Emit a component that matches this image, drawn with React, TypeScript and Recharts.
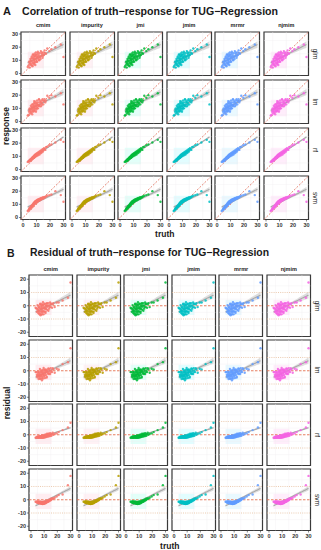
import React from 'react';
import {
  ComposedChart, Scatter, Line, Area, XAxis, YAxis, CartesianGrid,
  ReferenceLine, ReferenceArea,
} from 'recharts';

// ---------------- data ----------------
const methods = ['cmim', 'impurity', 'jmi', 'jmim', 'mrmr', 'njmim'];
const methodColors = ['#F8766D', '#B79F00', '#00BA38', '#00BFC4', '#619CFF', '#F564E3'];
const methodTints = ['#ffb6c6', '#ffc6d8', '#8cffe6', '#8cf6ff', '#a6e6ff', '#ffb6f0'];
const models = ['glm', 'lm', 'rf', 'svm'];

const truth = [
  4, 4.5, 5, 5.2, 5.5, 5.8, 6, 6.2, 6.5, 6.8,
  7, 7.2, 7.4, 7.6, 7.8, 8, 8.2, 8.4, 8.6, 8.8,
  9, 9.2, 9.5, 9.8, 10, 10.2, 10.5, 10.8, 11, 11.3,
  11.6, 12, 12.4, 12.8, 13.2, 13.6, 14, 14.5, 15, 15.5,
  16, 17, 18, 19.5, 21, 24, 28, 30,
  3.5, 4.8, 5.6, 6.4, 6.9, 7.3, 7.9, 8.3, 8.7, 9.1,
  9.6, 10.1, 10.6, 11.1, 11.8, 12.2, 13, 13.8, 14.8, 16.5,
];

const glmResponse = [
  6, 9, 4.5, 8, 11, 6.5, 10, 7.5, 13, 9,
  5.5, 11.5, 8, 14, 10, 12.5, 7, 9.5, 15, 11,
  13, 8.5, 16, 10.5, 12, 14.5, 9, 13, 16.5, 11.5,
  14, 10, 15.5, 12.5, 17, 13.5, 15, 12, 16, 14,
  17.5, 15, 19, 17, 18.5, 20, 22, 12.5,
  5, 7, 9.5, 12, 6, 14.5, 11, 8, 13.5, 6.5,
  14, 9, 12.5, 15.5, 10.5, 13, 11, 16, 13.5, 15.5,
];
const lmResponse = [
  5, 7.5, 10, 6, 8.5, 12, 7, 9.5, 11, 5.5,
  9, 13, 10.5, 7.5, 12, 9, 14, 11, 8, 13.5,
  10, 15, 12, 9, 14, 11, 16, 12.5, 10, 14.5,
  12, 16.5, 13, 15, 11.5, 16, 14, 17, 13, 15.5,
  17, 16, 19.5, 18, 20, 19, 21.5, 13,
  4.5, 9, 7.5, 10.5, 13, 8, 11.5, 15.5, 10, 12,
  7.5, 13.5, 10, 12.5, 17, 11.5, 14.5, 12.5, 16, 14.5,
];
const rfResponse = [
  6, 6.5, 6.2, 7.3, 6.9, 7.8, 7.2, 8.4, 7.9, 8.7,
  8.1, 9.3, 8.6, 9.8, 9, 10.2, 9.4, 10.6, 9.7, 11,
  10.1, 11.4, 10.5, 11.8, 10.9, 12.2, 11.3, 12.6, 11.7, 13,
  12.2, 13.6, 12.8, 14.1, 13.4, 14.7, 14, 15.5, 14.8, 16.2,
  15.6, 17, 17.3, 18.5, 19, 20.5, 22.5, 21,
  5.8, 6.9, 7.9, 7.6, 8.9, 8.5, 9.5, 8.9, 10.3, 9.6,
  10.9, 10.2, 11.6, 10.8, 12.1, 11.4, 12.4, 12.9, 13.6, 14.9,
];
const svmResponse = [
  5.5, 6.5, 6, 7.5, 7, 8.2, 7.5, 8.8, 8, 9.2,
  8.5, 10, 9, 10.5, 9.5, 11, 10, 11.5, 10.3, 12,
  10.8, 12.3, 11, 12.8, 11.5, 13, 12, 13.5, 12.3, 13.8,
  12.8, 14, 13, 14.2, 13.5, 14.8, 14, 15, 14.3, 15.5,
  15, 16, 16.5, 17, 17.5, 20, 17, 12,
  5, 6.8, 7.8, 8.5, 8.6, 9.6, 9.8, 10.8, 11.2, 11.5,
  11.8, 12.5, 12.7, 12.9, 13.5, 13.8, 14.5, 14.2, 15.2, 15.8,
];
const responses = [glmResponse, lmResponse, rfResponse, svmResponse];

const xDomain: [number, number] = [-1.5, 31.5];
const respDomain: [number, number] = [-1.5, 31.5];
const residDomain: [number, number] = [-23.2, 23.2];
const xTicks = [0, 10, 20, 30];
const xMinor = [5, 15, 25];
const respTicks = [0, 10, 20, 30];
const respMinor = [5, 15, 25];
const residTicks = [-20, -10, 0, 10, 20];
const residMinor = [-15, -5, 5, 15];
const residGuides = [-10, 10];
const clusterX: [number, number] = [3.5, 15.5];
const clusterRespY: [number, number] = [4, 16.5];
const clusterResidY: [number, number] = [-7, 4.5];

// ---------------- helpers ----------------
function smoothFit(xs: number[], ys: number[]) {
  const n = xs.length;
  const mx = xs.reduce((s, v) => s + v, 0) / n;
  const my = ys.reduce((s, v) => s + v, 0) / n;
  let sxx = 0, sxy = 0;
  for (let i = 0; i < n; i++) {
    sxx += (xs[i] - mx) ** 2;
    sxy += (xs[i] - mx) * (ys[i] - my);
  }
  const b = sxy / sxx;
  const a = my - b * mx;
  let sse = 0;
  for (let i = 0; i < n; i++) sse += (ys[i] - a - b * xs[i]) ** 2;
  const s = Math.sqrt(sse / (n - 2));
  const lo = Math.min(...xs), hi = Math.max(...xs);
  const rows: { x: number; fit: number; band: [number, number] }[] = [];
  const N = 40;
  for (let k = 0; k <= N; k++) {
    const x = lo + ((hi - lo) * k) / N;
    const y = a + b * x;
    const se = s * Math.sqrt(1 / n + (x - mx) ** 2 / sxx) * 2.0;
    rows.push({ x, fit: y, band: [y - se, y + se] });
  }
  return rows;
}

const layoutA = { left0: 21, colStep: 48.6, w: 44.5, top0: 32, rowStep: 48, h: 43.5 };
const layoutB = { left0: 29, colStep: 47.6, w: 43.5, top0: 275, rowStep: 64.7, h: 61.5 };
const xAxisH = 11;
const PAD = 5;
const FONT = '"Liberation Sans", Arial, Helvetica, sans-serif';
const tickStyle = { fontSize: 5.5, fill: '#333', fontWeight: 'bold', fontFamily: FONT } as any;

function Facet({ kind, row, col }: { kind: 'A' | 'B'; row: number; col: number }) {
  const L = kind === 'A' ? layoutA : layoutB;
  const showY = col === 0;
  const showX = row === 3;
  const pl = L.left0 + col * L.colStep;
  const pt = L.top0 + row * L.rowStep;
  const left = showY ? 0 : pl;
  const innerW = showY ? pl + L.w : L.w;
  const innerH = L.h + (showX ? xAxisH : 0);
  const color = methodColors[col];
  const resp = responses[row];
  const yVals = kind === 'A' ? resp : truth.map((t, i) => t - resp[i]);
  const points = truth.map((t, i) => ({ x: t, y: yVals[i] }));
  const fitRows = smoothFit(truth, yVals);
  const yDomain = kind === 'A' ? respDomain : residDomain;
  const yTicks = kind === 'A' ? respTicks : residTicks;
  const yMinor = kind === 'A' ? respMinor : residMinor;
  const cy = kind === 'A' ? clusterRespY : clusterResidY;

  return (
    <div style={{ position: 'absolute', left: left - PAD, top: pt - PAD, width: innerW + 2 * PAD, height: innerH + 2 * PAD }}>
      <ComposedChart
        width={innerW + 2 * PAD}
        height={innerH + 2 * PAD}
        data={fitRows}
        margin={{ top: PAD, right: PAD, bottom: PAD, left: PAD }}
      >
        <XAxis
          dataKey="x" type="number" domain={xDomain} ticks={xTicks} allowDataOverflow
          hide={!showX} height={xAxisH} interval={0} axisLine={false}
          tickSize={2} tickMargin={1.5} tickLine={{ stroke: '#333', strokeWidth: 0.6 }} tick={tickStyle}
        />
        <YAxis
          type="number" domain={yDomain} ticks={yTicks} allowDataOverflow
          hide={!showY} width={L.left0} interval={0} axisLine={false}
          tickSize={2} tickMargin={1} tickLine={{ stroke: '#333', strokeWidth: 0.6 }} tick={tickStyle}
        />
        <ReferenceArea x1={xDomain[0]} x2={xDomain[1]} y1={yDomain[0]} y2={yDomain[1]} fill="#ffffff" fillOpacity={1} stroke="none" />
        <ReferenceArea x1={clusterX[0]} x2={clusterX[1]} y1={cy[0]} y2={cy[1]} fill={methodTints[col]} fillOpacity={0.25} stroke="none" />
        {xMinor.map((v) => (
          <ReferenceLine key={'xm' + v} x={v} stroke="#f1eef0" strokeWidth={0.4} />
        ))}
        {yMinor.map((v) => (
          <ReferenceLine key={'ym' + v} y={v} stroke="#f1eef0" strokeWidth={0.4} />
        ))}
        <CartesianGrid stroke="#e3e0e2" strokeWidth={0.6} />
        {kind === 'B' &&
          residGuides.map((v) => (
            <ReferenceLine key={'g' + v} y={v} stroke="#e2b48e" strokeWidth={0.7} strokeDasharray="1 1.2" />
          ))}
        {kind === 'B' && <ReferenceLine y={0} stroke="#e4704f" strokeWidth={0.9} strokeDasharray="2.5 1.5" />}
        {kind === 'A' && (
          <ReferenceLine
            segment={[{ x: xDomain[0], y: respDomain[0] }, { x: xDomain[1], y: respDomain[1] }]}
            stroke="#e06a55" strokeWidth={0.8} strokeDasharray="2 1.5"
          />
        )}
        <Area dataKey="band" fill="#c4c4c4" fillOpacity={0.6} stroke="none" isAnimationActive={false} dot={false} activeDot={false} />
        <Line dataKey="fit" stroke="#a9a9a9" strokeWidth={1.1} dot={false} activeDot={false} isAnimationActive={false} />
        <Scatter
          data={points}
          dataKey="y"
          isAnimationActive={false}
          shape={(p: any) => <circle cx={p.cx} cy={p.cy} r={1.2} fill={color} fillOpacity={0.85} />}
        />
        <ReferenceArea x1={xDomain[0]} x2={xDomain[1]} y1={yDomain[0]} y2={yDomain[1]} fill="none" stroke="#3a3a3a" strokeWidth={1.2} />
      </ComposedChart>
    </div>
  );
}

function Txt({ x, y, children, size, bold = false, rotate = 0, color = '#1a1a1a', anchor = 'center' }: any) {
  const tx = anchor === 'center' ? '-50%' : anchor === 'end' ? '-100%' : '0';
  return (
    <div
      style={{
        position: 'absolute', left: x, top: y, fontFamily: FONT, fontSize: size,
        fontWeight: bold ? 'bold' : 'normal', color, whiteSpace: 'nowrap', lineHeight: 1,
        transform: `translate(${tx}, -50%) rotate(${rotate}deg)`,
        transformOrigin: anchor === 'center' ? '50% 50%' : '0 50%',
      }}
    >
      {children}
    </div>
  );
}

function Panel({ kind }: { kind: 'A' | 'B' }) {
  const L = kind === 'A' ? layoutA : layoutB;
  const stripY = kind === 'A' ? 25.5 : 270;
  const facets = [];
  for (let r = 0; r < models.length; r++)
    for (let c = 0; c < methods.length; c++) facets.push(<Facet key={kind + r + '-' + c} kind={kind} row={r} col={c} />);
  const bottom = L.top0 + 3 * L.rowStep + L.h;
  const midY = (L.top0 + bottom) / 2;
  const midX = (L.left0 + (L.left0 + 5 * L.colStep + L.w)) / 2;
  return (
    <>
      {facets}
      {methods.map((m, c) => (
        <Txt key={'s' + m} x={L.left0 + c * L.colStep + L.w / 2} y={stripY} size={5.5} bold>
          {m}
        </Txt>
      ))}
      {models.map((m, r) => (
        <Txt key={'r' + m} x={L.left0 + 5 * L.colStep + L.w + 6} y={L.top0 + r * L.rowStep + L.h / 2} size={6.5} rotate={90}>
          {m}
        </Txt>
      ))}
      <Txt x={midX} y={bottom + (kind === 'A' ? 14 : 15)} size={8.5} bold>truth</Txt>
      <Txt x={kind === 'A' ? 6 : 7} y={midY} size={8.5} bold rotate={-90}>
        {kind === 'A' ? 'response' : 'residual'}
      </Txt>
    </>
  );
}

export default function App() {
  return (
    <div style={{ position: 'absolute', left: 0, top: 0, width: 321, height: 550, background: '#fff', overflow: 'hidden' }}>
      <Txt x={3} y={11} size={11} bold anchor="start">A</Txt>
      <Txt x={22} y={11} size={10.6} bold anchor="start">Correlation of truth−response for TUG−Regression</Txt>
      <Txt x={7} y={252.5} size={10.5} bold anchor="start">B</Txt>
      <Txt x={30} y={252.5} size={10.4} bold anchor="start">Residual of truth−response for TUG−Regression</Txt>
      <Panel kind="A" />
      <Panel kind="B" />
    </div>
  );
}
